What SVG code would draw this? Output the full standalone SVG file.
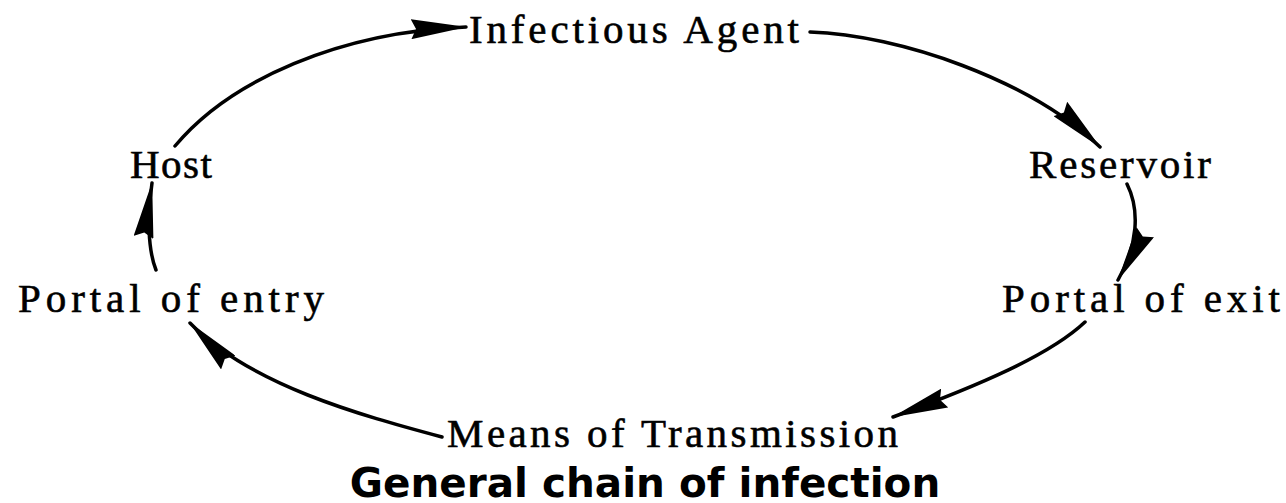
<svg xmlns="http://www.w3.org/2000/svg" width="1286" height="503" viewBox="0 0 1286 503">
  <style>
    .lbl { font-family: "Liberation Serif", "Times New Roman", serif; font-size: 41px; fill: #000; stroke: #000; stroke-width: 0.6; }
    .title { font-family: "DejaVu Sans", Verdana, sans-serif; font-weight: bold; font-size: 40.5px; fill: #000; text-anchor: middle; }
    .conn { fill: none; stroke: #000; stroke-width: 3.5; stroke-linecap: round; }
  </style>
  <defs>
    <marker id="ah" viewBox="0 0 56 20" refX="55" refY="10" markerWidth="56" markerHeight="20" markerUnits="userSpaceOnUse" orient="auto">
      <path d="M56,10 L0,0 L5,10 L0,20 Z" fill="#000"/>
    </marker>
  </defs>
  <rect width="1286" height="503" fill="#fff"/>

  <g id="connectors">
    <path class="conn" d="M175,146 C230,80 340,32 466,27" marker-end="url(#ah)"/>
    <path class="conn" d="M810,32 C900,35 1030,80 1100,147" marker-end="url(#ah)"/>
    <path class="conn" d="M1127,184 C1140,210 1138,245 1118,280" marker-end="url(#ah)"/>
    <path class="conn" d="M1085,322 C1050,355 980,385 893,417" marker-end="url(#ah)"/>
    <path class="conn" d="M442,437 C360,415 250,385 190,323" marker-end="url(#ah)"/>
    <path class="conn" d="M156,270 C148,250 147,215 152,183" marker-end="url(#ah)"/>
  </g>

  <g id="infectious-agent"><text class="lbl" x="469" y="43" textLength="330" lengthAdjust="spacing">Infectious Agent</text></g>
  <g id="reservoir"><text class="lbl" x="1029" y="178" textLength="182" lengthAdjust="spacing">Reservoir</text></g>
  <g id="portal-of-exit"><text class="lbl" x="1002" y="312" textLength="278" lengthAdjust="spacing">Portal of exit</text></g>
  <g id="means-of-transmission"><text class="lbl" x="447" y="447" textLength="451" lengthAdjust="spacing">Means of Transmission</text></g>
  <g id="portal-of-entry"><text class="lbl" x="18" y="312" textLength="306" lengthAdjust="spacing">Portal of entry</text></g>
  <g id="host"><text class="lbl" x="130" y="178" textLength="82" lengthAdjust="spacing">Host</text></g>

  <g id="title"><text class="title" x="645" y="497">General chain of infection</text></g>
</svg>
